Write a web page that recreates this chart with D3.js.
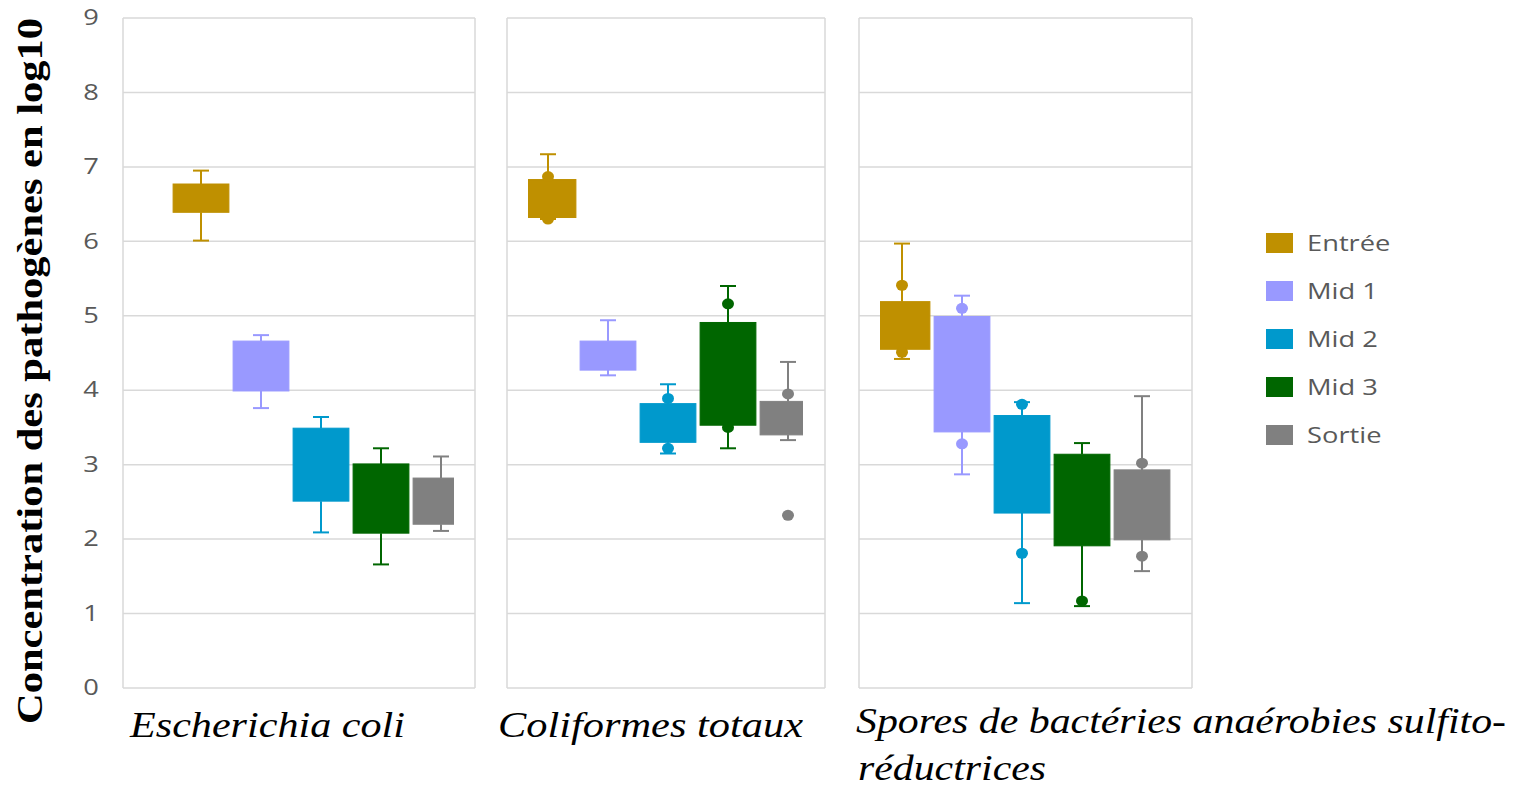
<!DOCTYPE html>
<html>
<head>
<meta charset="utf-8">
<script src="https://cdn.jsdelivr.net/npm/d3@7"></script>
<style>
  body { margin: 0; background: #fff; }
  svg { display: block; }
</style>
</head>
<body>
<div id="chart"></div>
<script>
// series and colours
const series = ["Entrée", "Mid 1", "Mid 2", "Mid 3", "Sortie"];
const colors = ["#BF9000", "#9999FF", "#0099CC", "#006600", "#808080"];
const groups = ["Escherichia coli", "Coliformes totaux", "Spores de bactéries anaérobies sulfito-réductrices"];
const yTicks = [0, 1, 2, 3, 4, 5, 6, 7, 8, 9];

// [whisker low, Q1, Q3, whisker high] per series
const ecoliBoxes = [
  [6.01, 6.39, 6.77, 6.95],
  [3.76, 3.99, 4.66, 4.74],
  [2.09, 2.51, 3.49, 3.64],
  [1.66, 2.08, 3.01, 3.22],
  [2.11, 2.20, 2.82, 3.11]
];
const colifBoxes = [
  [6.30, 6.32, 6.83, 7.17],
  [4.20, 4.27, 4.66, 4.94],
  [3.15, 3.30, 3.82, 4.08],
  [3.22, 3.53, 4.91, 5.40],
  [3.33, 3.40, 3.85, 4.38]
];
const sporesBoxes = [
  [4.42, 4.55, 5.19, 5.97],
  [2.87, 3.44, 4.99, 5.27],
  [1.14, 2.35, 3.66, 3.84],
  [1.10, 1.91, 3.14, 3.29],
  [1.57, 1.99, 2.93, 3.92]
];
// single points drawn as dots
const ecoliDots = [[], [], [], [], []];
const colifDots = [[6.30, 6.87], [], [3.22, 3.89], [3.50, 5.16], [2.32, 3.95]];
const sporesDots = [[5.41, 4.51], [5.10, 3.28], [3.81, 1.81], [1.17], [3.02, 1.77]];

const W = 1521, H = 788;
const svg = d3.select("#chart").append("svg").attr("width", W).attr("height", H)
  .style("font-family", "'Open Sans', sans-serif");

const y = d3.scaleLinear().domain([0, 9]).range([688, 18]);

// panel layout
const panels = [
  {boxes: ecoliBoxes, dots: ecoliDots, x0: 123, x1: 475, band: [171, 471], clip: [123, 454]},
  {boxes: colifBoxes, dots: colifDots, x0: 507, x1: 825, band: [518, 818], clip: [528, 803]},
  {boxes: sporesBoxes, dots: sporesDots, x0: 859, x1: 1192, band: [872, 1172], clip: [880, 1192]}
];

panels.forEach((p, pi) => {
  const g = svg.append("g");
  // gridlines
  g.selectAll("line.grid").data(yTicks).enter().append("line")
    .attr("x1", p.x0).attr("x2", p.x1)
    .attr("y1", d => y(d)).attr("y2", d => y(d))
    .attr("stroke", "#d9d9d9").attr("stroke-width", 1.5);
  // panel sides
  [p.x0, p.x1].forEach(xx => {
    g.append("line").attr("x1", xx).attr("x2", xx)
      .attr("y1", y(9)).attr("y2", y(0))
      .attr("stroke", "#d9d9d9").attr("stroke-width", 1.5);
  });

  const clipId = "clip" + pi;
  svg.append("clipPath").attr("id", clipId).append("rect")
    .attr("x", p.clip[0]).attr("y", 0)
    .attr("width", p.clip[1] - p.clip[0]).attr("height", H);

  const x = d3.scaleBand().domain(series).range(p.band).paddingInner(0.07).paddingOuter(0.035);
  const bw = x.bandwidth();
  const gb = g.append("g").attr("clip-path", `url(#${clipId})`);

  series.forEach((s, i) => {
    const [lo, q1, q3, hi] = p.boxes[i];
    const cx = x(s) + bw / 2;
    const c = colors[i];
    const wg = gb.append("g").attr("stroke", c).attr("stroke-width", 2);
    wg.append("line").attr("x1", cx).attr("x2", cx).attr("y1", y(hi)).attr("y2", y(q3));
    wg.append("line").attr("x1", cx).attr("x2", cx).attr("y1", y(q1)).attr("y2", y(lo));
    wg.append("line").attr("x1", cx - 8).attr("x2", cx + 8).attr("y1", y(hi)).attr("y2", y(hi));
    wg.append("line").attr("x1", cx - 8).attr("x2", cx + 8).attr("y1", y(lo)).attr("y2", y(lo));
    gb.append("rect")
      .attr("x", x(s)).attr("width", bw)
      .attr("y", y(q3)).attr("height", y(q1) - y(q3))
      .attr("fill", c).attr("stroke", c).attr("stroke-width", 1);
    gb.selectAll(null).data(p.dots[i]).enter().append("ellipse")
      .attr("cx", cx).attr("cy", d => y(d))
      .attr("rx", 6).attr("ry", 5.5).attr("fill", c);
  });
});

// y axis tick labels (picture is stretched sideways, so widen the digits)
const yAxis = d3.axisLeft(y).tickValues(yTicks).tickSize(0).tickFormat(d3.format("d"));
const ga = svg.append("g").attr("transform", "translate(91,0)").call(yAxis);
ga.select(".domain").remove();
ga.selectAll("text")
  .attr("x", 0).attr("text-anchor", "middle")
  .attr("transform", "scale(1.3,1)")
  .attr("fill", "#595959")
  .style("font-size", "21px").style("font-family", "'Open Sans', sans-serif");

// y title
svg.append("text")
  .attr("transform", "translate(42,371) rotate(-90)")
  .attr("text-anchor", "middle")
  .attr("textLength", 706).attr("lengthAdjust", "spacingAndGlyphs")
  .style("font-family", "'Liberation Serif', 'Times New Roman', serif")
  .style("font-weight", "bold").style("font-size", "36px")
  .text("Concentration des pathogènes en log10");

// category labels
const catLabels = [
  {t: "Escherichia coli", x: 130, y: 737, w: 275},
  {t: "Coliformes totaux", x: 498, y: 737, w: 305},
  {t: "Spores de bactéries anaérobies sulfito-", x: 856, y: 733, w: 650},
  {t: "réductrices", x: 858, y: 780, w: 188}
];
svg.selectAll("text.cat").data(catLabels).enter().append("text")
  .attr("class", "cat")
  .attr("x", d => d.x).attr("y", d => d.y)
  .attr("textLength", d => d.w).attr("lengthAdjust", "spacingAndGlyphs")
  .style("font-family", "'Liberation Serif', 'Times New Roman', serif")
  .style("font-style", "italic").style("font-size", "36px")
  .text(d => d.t);

// legend
const lg = svg.append("g").attr("transform", "translate(1266,243)");
series.forEach((s, i) => {
  lg.append("rect").attr("x", 0).attr("y", i * 48 - 10)
    .attr("width", 27).attr("height", 20).attr("fill", colors[i]);
  lg.append("text")
    .attr("transform", `translate(41,${i * 48}) scale(1.3,1)`)
    .attr("dominant-baseline", "central")
    .attr("fill", "#595959").style("font-size", "21px")
    .text(s);
});
</script>
</body>
</html>
